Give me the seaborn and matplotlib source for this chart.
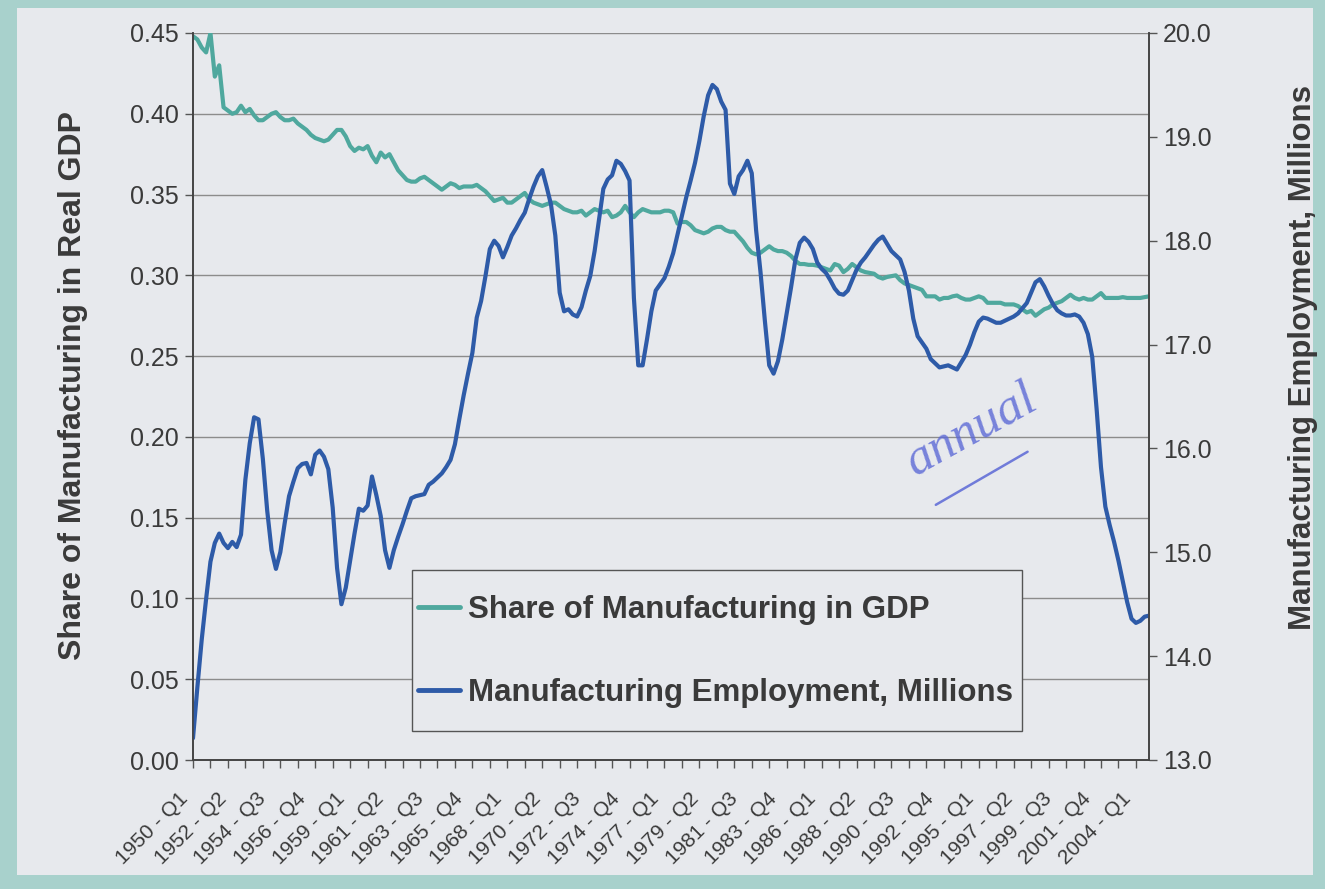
import matplotlib
matplotlib.use("Agg")
import matplotlib.pyplot as plt
from matplotlib.patches import Rectangle
from matplotlib.lines import Line2D
from matplotlib.ticker import FormatStrFormatter
from matplotlib.transforms import ScaledTranslation
import numpy as np
import pandas as pd
import seaborn as sns

# Quarterly categories, 1950 Q1 .. 2004 Q4
years = list(range(1950, 2005))
quarters = ["Q1", "Q2", "Q3", "Q4"]
categories = [f"{y} - {q}" for y in years for q in quarters]

# Share of manufacturing in real GDP (left axis)
share_gdp = [
    0.448, 0.446, 0.441, 0.438, 0.450, 0.423, 0.430, 0.404, 0.402, 0.400,
    0.401, 0.405, 0.401, 0.403, 0.399, 0.396, 0.396, 0.398, 0.400, 0.401,
    0.398, 0.396, 0.396, 0.397, 0.394, 0.392, 0.390, 0.387, 0.385, 0.384,
    0.383, 0.384, 0.387, 0.390, 0.390, 0.386, 0.380, 0.377, 0.379, 0.378,
    0.380, 0.374, 0.370, 0.376, 0.373, 0.375, 0.370, 0.365, 0.362, 0.359,
    0.358, 0.358, 0.360, 0.361, 0.359, 0.357, 0.355, 0.353, 0.355, 0.357,
    0.356, 0.354, 0.355, 0.355, 0.355, 0.356, 0.354, 0.352, 0.349, 0.346,
    0.347, 0.348, 0.345, 0.345, 0.347, 0.349, 0.351, 0.347, 0.345, 0.344,
    0.343, 0.344, 0.345, 0.345, 0.343, 0.341, 0.340, 0.339, 0.339, 0.340,
    0.337, 0.339, 0.341, 0.340, 0.339, 0.340, 0.336, 0.337, 0.339, 0.343,
    0.339, 0.336, 0.339, 0.341, 0.340, 0.339, 0.339, 0.339, 0.340, 0.340,
    0.339, 0.332, 0.333, 0.333, 0.331, 0.328, 0.327, 0.326, 0.327, 0.329,
    0.330, 0.330, 0.328, 0.327, 0.327, 0.324, 0.321, 0.317, 0.314, 0.313,
    0.314, 0.316, 0.318, 0.316, 0.315, 0.315, 0.314, 0.312, 0.309, 0.307,
    0.307, 0.3065, 0.3065, 0.306, 0.305, 0.304, 0.303, 0.307, 0.306, 0.302,
    0.304, 0.307, 0.305, 0.303, 0.302, 0.3015, 0.301, 0.299, 0.298, 0.299,
    0.2995, 0.300, 0.297, 0.295, 0.294, 0.293, 0.292, 0.291, 0.287, 0.287,
    0.287, 0.285, 0.286, 0.286, 0.287, 0.2875, 0.286, 0.285, 0.285, 0.286,
    0.287, 0.286, 0.283, 0.283, 0.283, 0.283, 0.282, 0.282, 0.282, 0.281,
    0.279, 0.277, 0.278, 0.275, 0.277, 0.279, 0.280, 0.282, 0.283, 0.284,
    0.286, 0.288, 0.286, 0.285, 0.286, 0.285, 0.285, 0.287, 0.289, 0.286,
    0.286, 0.286, 0.286, 0.2865, 0.286, 0.286, 0.286, 0.286, 0.2865, 0.287,
]

# Manufacturing employment, millions (right axis)
employment = [
    13.21, 13.70, 14.16, 14.55, 14.91, 15.09, 15.18, 15.09, 15.04, 15.10,
    15.05, 15.17, 15.70, 16.05, 16.30, 16.28, 15.90, 15.40, 15.02, 14.84,
    15.00, 15.28, 15.54, 15.68, 15.81, 15.85, 15.86, 15.75, 15.94, 15.98,
    15.92, 15.80, 15.43, 14.85, 14.50, 14.66, 14.92, 15.18, 15.42, 15.40,
    15.45, 15.73, 15.55, 15.35, 15.02, 14.85, 15.02, 15.15, 15.27, 15.40,
    15.52, 15.54, 15.55, 15.56, 15.65, 15.68, 15.72, 15.76, 15.82, 15.89,
    16.04, 16.28, 16.51, 16.72, 16.92, 17.26, 17.42, 17.66, 17.92, 18.00,
    17.95, 17.84, 17.94, 18.05, 18.12, 18.20, 18.27, 18.40, 18.52, 18.62,
    18.68, 18.52, 18.35, 18.05, 17.50, 17.32, 17.34, 17.29, 17.27, 17.36,
    17.52, 17.66, 17.90, 18.20, 18.50, 18.59, 18.63, 18.77, 18.74, 18.67,
    18.58, 17.45, 16.80, 16.80, 17.05, 17.32, 17.52, 17.58, 17.64, 17.75,
    17.88, 18.06, 18.24, 18.42, 18.58, 18.75, 18.96, 19.20, 19.40, 19.50,
    19.46, 19.34, 19.26, 18.55, 18.45, 18.62, 18.68, 18.77, 18.65, 18.10,
    17.70, 17.23, 16.80, 16.72, 16.84, 17.05, 17.30, 17.55, 17.82, 17.98,
    18.03, 17.99, 17.92, 17.79, 17.73, 17.69, 17.62, 17.54, 17.49, 17.48,
    17.52, 17.62, 17.72, 17.79, 17.84, 17.90, 17.96, 18.01, 18.04, 17.97,
    17.90, 17.86, 17.82, 17.70, 17.52, 17.25, 17.08, 17.02, 16.96, 16.86,
    16.82, 16.78, 16.79, 16.80, 16.78, 16.76, 16.83, 16.90, 17.00, 17.12,
    17.22, 17.26, 17.25, 17.23, 17.21, 17.21, 17.23, 17.25, 17.27, 17.30,
    17.35, 17.40, 17.50, 17.60, 17.63, 17.56, 17.47, 17.39, 17.33, 17.30,
    17.28, 17.28, 17.29, 17.27, 17.21, 17.10, 16.88, 16.38, 15.82, 15.44,
    15.26, 15.10, 14.92, 14.72, 14.52, 14.36, 14.32, 14.34, 14.38, 14.39,
]

series_labels = ["Share of Manufacturing in GDP", "Manufacturing Employment, Millions"]
left_ticks = [0.00, 0.05, 0.10, 0.15, 0.20, 0.25, 0.30, 0.35, 0.40, 0.45]
right_ticks = [13.0, 14.0, 15.0, 16.0, 17.0, 18.0, 19.0, 20.0]

df = pd.DataFrame({
    "pos": np.arange(len(categories)),
    "quarter": categories,
    "share": share_gdp,
    "employment": employment,
})

sns.set_theme(style="white")
plt.rcParams["font.family"] = ["Liberation Sans", "DejaVu Sans"]

TEXT = "#3a3a3a"
TEAL = "#4fa89e"
BLUE = "#2e5ba8"
PANEL = "#e7e9ed"
FRAME = "#a8d1cc"
GRID = "#8c8c8c"
INK = "#5b68d6"

fig = plt.figure(figsize=(13.25, 8.89), dpi=100)
fig.patch.set_facecolor(FRAME)
panel = Rectangle((17 / 1325, 1 - 875 / 889), (1313 - 17) / 1325, (875 - 8) / 889,
                  transform=fig.transFigure, facecolor=PANEL, edgecolor="none", zorder=-10)
fig.add_artist(panel)

ax = fig.add_axes([193 / 1325, 1 - 760 / 889, (1149 - 193) / 1325, (760 - 33) / 889])
ax.set_facecolor("none")
ax2 = ax.twinx()
ax2.set_facecolor("none")

sns.lineplot(data=df, x="pos", y="share", ax=ax, color=TEAL, lw=3.0, label=series_labels[0], legend=False)
sns.lineplot(data=df, x="pos", y="employment", ax=ax2, color=BLUE, lw=3.0, label=series_labels[1], legend=False)

n = len(categories)
ax.set_xlim(0, n - 1)
ax.set_ylim(left_ticks[0], left_ticks[-1])
ax2.set_ylim(right_ticks[0], right_ticks[-1])

# y axes
ax.set_yticks(left_ticks)
ax.yaxis.set_major_formatter(FormatStrFormatter("%.2f"))
ax2.set_yticks(right_ticks)
ax2.yaxis.set_major_formatter(FormatStrFormatter("%.1f"))
ax.yaxis.grid(True, color=GRID, lw=1.0)
ax.set_axisbelow(True)
ax.tick_params(axis="y", direction="out", length=6, width=1, color="#555555",
               labelsize=18, labelcolor=TEXT, pad=4, left=True)
ax2.tick_params(axis="y", direction="out", length=6, width=1, color="#555555",
                labelsize=18, labelcolor=TEXT, pad=4, right=True)

# x axis: labels every 9 quarters (major), tick marks every 4 quarters (minor)
ax.xaxis.remove_overlapping_locs = False
label_pos = np.arange(0, n, 9)
ax.set_xticks(label_pos)
ax.set_xticklabels([categories[i] for i in label_pos], rotation=45,
                   ha="right", rotation_mode="anchor", fontsize=15, color=TEXT)
ax.set_xticks(np.arange(0, n, 4), minor=True)
ax.tick_params(axis="x", which="major", length=0, pad=21, bottom=True)
ax.tick_params(axis="x", which="minor", direction="out", length=6, width=1, color="#555555", bottom=True)
shift = ScaledTranslation(-15 / 100, 0, fig.dpi_scale_trans)
for lbl in ax.get_xticklabels():
    lbl.set_transform(lbl.get_transform() + shift)
ax.set_xlabel("")

for a in (ax, ax2):
    a.spines["top"].set_visible(False)
    for s in ("left", "bottom", "right"):
        a.spines[s].set_color("#444444")
        a.spines[s].set_linewidth(1.2)

ax.set_ylabel("Share of Manufacturing in Real GDP", fontsize=23, fontweight="bold", color=TEXT)
ax2.set_ylabel("Manufacturing Employment, Millions", fontsize=22.5, fontweight="bold", color=TEXT)
ax.yaxis.set_label_coords(-0.110, 0.515)
ax2.yaxis.set_label_coords(1.145, 0.553)

# legend: boxed key with two entries
legend_box = Rectangle((0.229, 0.040), 0.638, 0.221, transform=ax2.transAxes,
                       facecolor=PANEL, edgecolor="#555555", lw=1.0, zorder=5)
ax2.add_patch(legend_box)
handles = [Line2D([], [], color=TEAL, lw=3.5), Line2D([], [], color=BLUE, lw=3.5)]
leg = ax2.legend(handles, series_labels, loc="center left", bbox_to_anchor=(0.229, 0.1495),
                 frameon=False, prop={"weight": "bold", "size": 22.5}, handlelength=1.35,
                 handletextpad=0.25, labelspacing=1.7, borderpad=0.2, borderaxespad=0)
leg.set_zorder(6)
for t in leg.get_texts():
    t.set_color(TEXT)

# handwritten margin note
ax2.text(0.815, 0.452, "annual", transform=ax2.transAxes, fontsize=37, style="italic",
         family="Liberation Serif", color=INK, rotation=29, ha="center", va="center", alpha=0.8)
ax2.plot([0.777, 0.873], [0.351, 0.424], transform=ax2.transAxes, color=INK, lw=1.8, alpha=0.85)

fig.savefig("out.png", dpi=100, facecolor=fig.get_facecolor())
